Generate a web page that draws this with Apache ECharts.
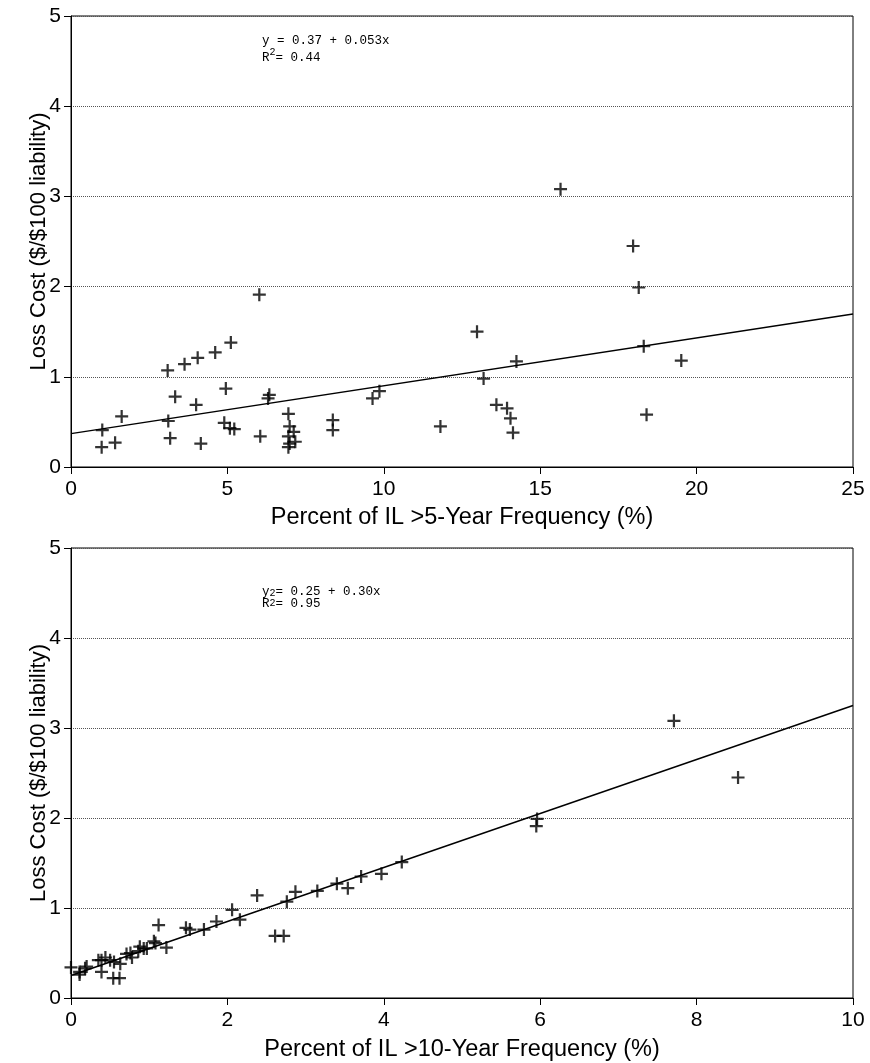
<!DOCTYPE html>
<html>
<head>
<meta charset="utf-8">
<script src="https://cdn.jsdelivr.net/npm/echarts@6/dist/echarts.min.js"></script>
<style>
  html, body { margin: 0; padding: 0; background: #fff; }
  #chart { width: 870px; height: 1063px; }
</style>
</head>
<body>
<div id="chart"></div>
<script>
// top panel: percent of IL > 5-year frequency
const topX = [0.98, 1.00, 1.41, 1.62, 3.09, 3.11, 3.17, 3.33, 3.63, 4.00, 4.05, 4.15, 4.61, 4.95, 4.90, 5.11,
  5.08, 5.22, 6.02, 6.05, 6.34, 6.30, 6.95, 6.99, 7.12, 6.95, 6.99, 7.17, 6.95, 8.37, 8.37, 9.64, 9.86, 11.81,
  15.65, 17.97, 18.15, 12.98, 14.24, 13.19, 18.31, 19.51, 13.60, 13.94, 14.05, 14.13, 18.40];
const topY = [0.22, 0.41, 0.27, 0.56, 1.07, 0.51, 0.32, 0.78, 1.14, 0.69, 1.21, 0.26, 1.27, 0.87, 0.49, 1.38,
  0.43, 0.42, 1.91, 0.34, 0.80, 0.76, 0.59, 0.45, 0.39, 0.34, 0.26, 0.28, 0.22, 0.52, 0.41, 0.76, 0.84, 0.45,
  3.08, 2.45, 1.99, 1.50, 1.17, 0.98, 1.34, 1.18, 0.69, 0.65, 0.54, 0.38, 0.58];
const topLineX = [0, 25];
const topLineY = [0.37, 1.695];

// bottom panel: percent of IL > 10-year frequency
const bottomX = [0.00, 0.11, 0.11, 0.18, 0.20, 0.35, 0.39, 0.44, 0.39, 0.50, 0.54, 0.62, 0.63, 0.55, 0.71,
  0.76, 0.78, 0.88, 0.93, 0.97, 0.86, 1.06, 1.08, 1.12, 1.22, 1.47, 1.52, 1.70, 1.86, 2.06, 2.16, 2.38, 2.61,
  2.72, 2.76, 2.87, 3.15, 3.40, 3.54, 3.71, 3.97, 4.23, 5.96, 5.95, 7.71, 8.53];
const bottomY = [0.34, 0.29, 0.26, 0.33, 0.35, 0.42, 0.42, 0.45, 0.29, 0.42, 0.22, 0.22, 0.38, 0.40, 0.49,
  0.50, 0.45, 0.57, 0.55, 0.55, 0.52, 0.63, 0.61, 0.81, 0.56, 0.78, 0.76, 0.76, 0.85, 0.98, 0.87, 1.14, 0.69,
  0.69, 1.07, 1.18, 1.19, 1.27, 1.22, 1.35, 1.38, 1.51, 1.99, 1.91, 3.08, 2.45];
const bottomLineX = [0, 10];
const bottomLineY = [0.25, 3.25];

const yTicks = [0, 1, 2, 3, 4, 5];
const topXTicks = [0, 5, 10, 15, 20, 25];
const bottomXTicks = [0, 2, 4, 6, 8, 10];

const plusSymbol = 'path://M0,5.8H5.8V0H8.2V5.8H14V8.2H8.2V14H5.8V8.2H0Z';
const sansFont = "'Liberation Sans', Arial, Helvetica, sans-serif";
const monoFont = "'Liberation Mono', 'Courier New', monospace";

const pairs = (xs, ys) => xs.map((x, i) => [x, ys[i]]);

const chart = echarts.init(document.getElementById('chart'));

function xAxisFor(gridIndex, ticks, name, gap) {
  return {
    type: 'value',
    gridIndex,
    min: ticks[0],
    max: ticks[ticks.length - 1],
    interval: ticks[1] - ticks[0],
    name,
    nameLocation: 'middle',
    nameGap: gap,
    nameMoveOverlap: false,
    nameTextStyle: { fontFamily: sansFont, fontSize: 23.5, color: '#000' },
    axisLine: { lineStyle: { color: '#000', width: 1 } },
    axisTick: { show: true, length: 7, lineStyle: { color: '#000' } },
    axisLabel: { fontFamily: sansFont, fontSize: 21, color: '#000', margin: 12 },
    splitLine: { show: false },
  };
}

function yAxisFor(gridIndex) {
  return {
    type: 'value',
    gridIndex,
    min: yTicks[0],
    max: yTicks[yTicks.length - 1],
    interval: 1,
    name: 'Loss Cost ($/$100 liability)',
    nameLocation: 'middle',
    nameGap: 21,
    nameMoveOverlap: false,
    nameTextStyle: { fontFamily: sansFont, fontSize: 22, color: '#000' },
    axisLine: { show: true, lineStyle: { color: '#000', width: 1 } },
    axisTick: { show: true, length: 7, lineStyle: { color: '#000' } },
    axisLabel: { fontFamily: sansFont, fontSize: 21, color: '#000', margin: 10 },
    splitLine: { show: true, lineStyle: { color: '#555', type: 'dotted', width: 1 } },
  };
}

function scatter(idx, data) {
  return {
    type: 'scatter',
    xAxisIndex: idx,
    yAxisIndex: idx,
    data,
    symbol: plusSymbol,
    symbolSize: 13,
    itemStyle: { color: '#000' },
    silent: true,
  };
}

function fitLine(idx, data) {
  return {
    type: 'line',
    xAxisIndex: idx,
    yAxisIndex: idx,
    data,
    showSymbol: false,
    lineStyle: { color: '#000', width: 1.5 },
    silent: true,
  };
}

chart.setOption({
  animation: false,
  backgroundColor: '#fff',
  grid: [
    { left: 71, right: 17, top: 16, height: 451, show: true, borderColor: '#000', borderWidth: 1 },
    { left: 71, right: 17, top: 548, height: 452, show: true, borderColor: '#000', borderWidth: 1 },
  ],
  xAxis: [
    xAxisFor(0, topXTicks, 'Percent of IL >5-Year Frequency (%)', 39),
    xAxisFor(1, bottomXTicks, 'Percent of IL >10-Year Frequency (%)', 40),
  ],
  yAxis: [yAxisFor(0), yAxisFor(1)],
  series: [
    fitLine(0, pairs(topLineX, topLineY)),
    scatter(0, pairs(topX, topY)),
    fitLine(1, pairs(bottomLineX, bottomLineY)),
    scatter(1, pairs(bottomX, bottomY)),
  ],
  graphic: [
    {
      type: 'text', left: 262, top: 34,
      style: {
        text: '{m|y = 0.37 + 0.053x}\n{m|R}{sup|2}{m|= 0.44}',
        rich: {
          m: { fontFamily: monoFont, fontSize: 12.5, lineHeight: 17, color: '#000', verticalAlign: 'bottom' },
          sup: { fontFamily: monoFont, fontSize: 10, lineHeight: 10, color: '#000', verticalAlign: 'top' },
        },
      },
    },
    {
      type: 'text', left: 262, top: 582,
      style: {
        text: '{m|y}{sub|2}{m|= 0.25 + 0.30x}\n{m|R}{sup|2}{m|= 0.95}',
        rich: {
          m: { fontFamily: monoFont, fontSize: 12.5, lineHeight: 12, color: '#000', verticalAlign: 'middle' },
          sub: { fontFamily: monoFont, fontSize: 10, lineHeight: 8, color: '#000', verticalAlign: 'bottom', padding: [6, 0, 0, 0] },
          sup: { fontFamily: monoFont, fontSize: 10, lineHeight: 8, color: '#000', verticalAlign: 'top' },
        },
      },
    },
  ],
});
</script>
</body>
</html>
